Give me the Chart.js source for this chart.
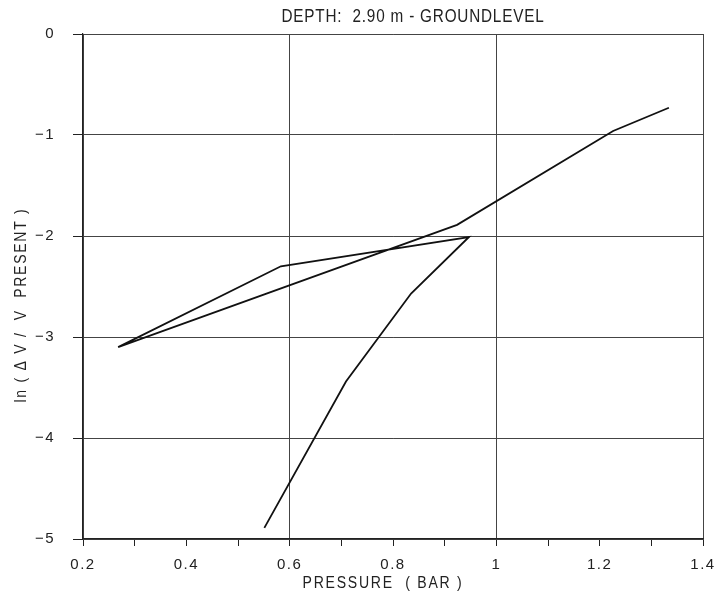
<!DOCTYPE html>
<html lang="en">
<head>
    <meta charset="UTF-8">
    <title>Depth 2.90 m - Groundlevel</title>
    <script src="https://cdn.jsdelivr.net/npm/chart.js"></script>
    <style>
        html, body {
            margin: 0;
            padding: 0;
            background-color: #ffffff;
        }
        #wrap {
            width: 717px;
            height: 598px;
        }
    </style>
</head>
<body>
    <div id="wrap"><canvas id="depthChart" width="717" height="598"></canvas></div>

    <script>
        // Measured path, in drawing order
        const pressure = [0.551, 0.709, 0.835, 0.947, 0.583, 0.268, 0.924, 1.226, 1.334];
        const lnRatio = [-4.89, -3.44, -2.57, -2.01, -2.30, -3.10, -1.89, -0.96, -0.73];

        const titleText = 'DEPTH:  2.90 m - GROUNDLEVEL';
        const xTitle = 'PRESSURE  ( BAR )';
        const yTitle = 'ln ( \u0394 V /  V  PRESENT )';
        const xMajorTicks = [0.2, 0.4, 0.6, 0.8, 1.0, 1.2, 1.4];
        const xGridAt = [0.2, 0.6, 1.0, 1.4];

        const FONT = '"Liberation Sans", "DejaVu Sans", Arial, sans-serif';
        const INK = '#222';

        const points = pressure.map((p, i) => ({ x: p, y: lnRatio[i] }));
        const tenths = v => Math.round(v * 10);

        // draw text centred at (x, y), squeezed/stretched to a given width
        function fitText(ctx, text, x, y, width, rotate) {
            ctx.save();
            ctx.translate(x, y);
            if (rotate) ctx.rotate(-Math.PI / 2);
            const w = ctx.measureText(text).width;
            ctx.scale(width / w, 1);
            ctx.fillText(text, 0, 0);
            ctx.restore();
        }

        // Titles are placed by hand, like the original plot sheet
        const labelPlugin = {
            id: 'sheetLabels',
            beforeDraw(chart) {
                // plotter-style spacing for the tick labels
                chart.ctx.letterSpacing = '1.5px';
            },
            afterDraw(chart) {
                const ctx = chart.ctx;
                ctx.save();
                ctx.fillStyle = INK;
                ctx.textAlign = 'center';
                ctx.textBaseline = 'middle';

                ctx.font = '19px ' + FONT;
                ctx.letterSpacing = '1px';
                fitText(ctx, titleText, 413, 17, 263, false);

                ctx.font = '16px ' + FONT;
                ctx.letterSpacing = '2px';
                fitText(ctx, xTitle, 383, 584, 161, false);
                fitText(ctx, yTitle, 22, 305, 195, true);
                ctx.restore();
            }
        };

        const ctx = document.getElementById('depthChart').getContext('2d');
        new Chart(ctx, {
            type: 'scatter',
            data: {
                datasets: [{
                    data: points,
                    showLine: true,
                    borderColor: '#111',
                    borderWidth: 1.8,
                    pointRadius: 0,
                    tension: 0
                }]
            },
            options: {
                responsive: false,
                animation: false,
                layout: {
                    padding: { top: 34, right: 14, left: 0, bottom: 0 }
                },
                plugins: {
                    legend: { display: false },
                    tooltip: { enabled: false }
                },
                scales: {
                    x: {
                        type: 'linear',
                        min: 0.2,
                        max: 1.4,
                        afterFit: s => {
                            s.height = 59;
                            s.paddingLeft = 0;
                            s.paddingRight = 0;
                        },
                        border: { color: INK, width: 1.2 },
                        grid: {
                            color: c => xGridAt.some(v => tenths(v) === tenths(c.tick.value)) ? '#444' : 'rgba(0,0,0,0)',
                            tickColor: INK,
                            tickLength: 7,
                            lineWidth: 1
                        },
                        ticks: {
                            stepSize: 0.1,
                            autoSkip: false,
                            maxRotation: 0,
                            padding: 10,
                            color: INK,
                            font: { family: FONT, size: 15 },
                            callback: v => xMajorTicks.some(m => tenths(m) === tenths(v)) ? String(tenths(v) / 10) : ''
                        }
                    },
                    y: {
                        min: -5,
                        max: 0,
                        afterFit: s => {
                            s.width = 83;
                            s.paddingTop = 0;
                            s.paddingBottom = 0;
                        },
                        border: { color: INK, width: 1.2 },
                        grid: {
                            color: '#444',
                            tickColor: INK,
                            tickLength: 10,
                            lineWidth: 1
                        },
                        ticks: {
                            stepSize: 1,
                            padding: 18,
                            color: INK,
                            font: { family: FONT, size: 15 },
                            callback: v => v === 0 ? '0' : '\u2212' + Math.abs(v)
                        }
                    }
                }
            },
            plugins: [labelPlugin]
        });
    </script>
</body>
</html>
